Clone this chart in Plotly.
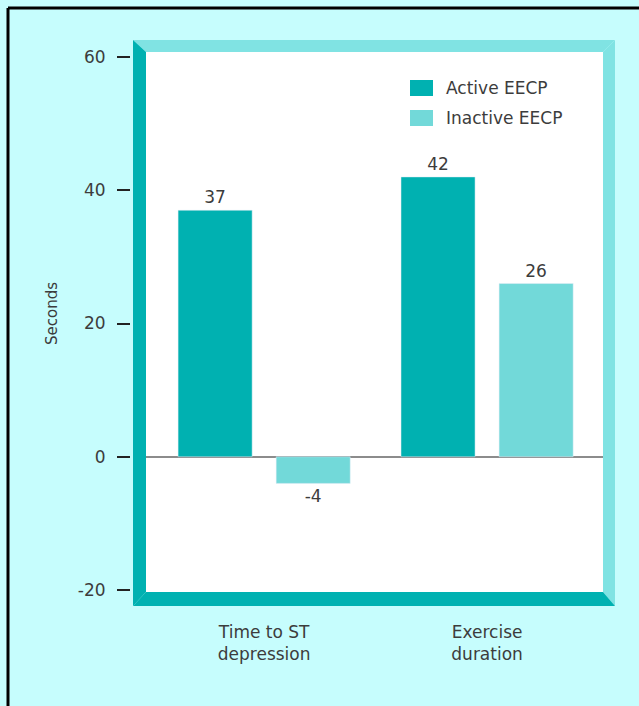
import plotly.graph_objects as go

categories = ["Time to ST<br>depression", "Exercise<br>duration"]
active = [37, 42]
inactive = [-4, 26]
series_names = ["Active EECP", "Inactive EECP"]
y_ticks = [-20, 0, 20, 40, 60]
y_tick_text = ["-20", "0", "20", "40", "60"]

BG = "#c6fdfd"
DARK = "#00b1b1"
LIGHT = "#72d9d9"
FRAME_LIGHT = "#80e3e3"
TXT = "#3c3c3c"
FONT = "DejaVu Sans"
FS = 17

# pixel -> paper conversions (paper area: x 130..615, y 40..606)
L, R, T, B = 130, 615, 40, 606
def px(p):
    return (p - L) / (R - L)
def py(p):
    return (B - p) / (B - T)

fig = go.Figure()
colors = [DARK, LIGHT]
for name, vals, col in zip(series_names, [active, inactive], colors):
    fig.add_trace(go.Bar(x=categories, y=vals, name=name, marker_color=col,
                         text=[str(v) for v in vals], textposition="outside",
                         textfont=dict(size=FS, color=TXT, family=FONT), cliponaxis=False,
                         showlegend=False))

def poly(pts):
    return "M " + " L ".join(f"{px(a):.5f},{py(b):.5f}" for a, b in pts) + " Z"

shapes = [
    dict(type="path", xref="paper", yref="paper", path=poly([(133, 40), (615, 40), (603, 52), (146, 52)]),
         fillcolor=FRAME_LIGHT, line=dict(width=0), layer="above"),
    dict(type="path", xref="paper", yref="paper", path=poly([(615, 40), (615, 606), (603, 592), (603, 52)]),
         fillcolor=FRAME_LIGHT, line=dict(width=0), layer="above"),
    dict(type="path", xref="paper", yref="paper", path=poly([(133, 40), (146, 52), (146, 592), (133, 606)]),
         fillcolor=DARK, line=dict(width=0), layer="above"),
    dict(type="path", xref="paper", yref="paper", path=poly([(133, 606), (146, 592), (603, 592), (615, 606)]),
         fillcolor=DARK, line=dict(width=0), layer="above"),
    dict(type="line", xref="paper", yref="paper", x0=px(8), x1=px(8), y0=py(8), y1=py(720),
         line=dict(color="black", width=3)),
    dict(type="line", xref="paper", yref="paper", x0=px(8), x1=px(660), y0=py(8), y1=py(8),
         line=dict(color="black", width=3)),
]

annotations = [dict(text="Seconds", x=px(52), y=py(314), xref="paper", yref="paper",
                    xanchor="center", yanchor="middle",
                    textangle=-90, showarrow=False, font=dict(size=15, color=TXT, family=FONT))]

# legend (drawn manually to match the large swatches)
leg_rows = [88, 118]
for name, col, yc in zip(series_names, colors, leg_rows):
    shapes.append(dict(type="rect", xref="paper", yref="paper",
                       x0=px(410), x1=px(433), y0=py(yc - 8), y1=py(yc + 8),
                       fillcolor=col, line=dict(width=0), layer="above"))
    annotations.append(dict(text=name, x=px(444), y=py(yc), xref="paper", yref="paper",
                            xanchor="left", yanchor="middle", showarrow=False,
                            font=dict(size=FS, color=TXT, family=FONT)))

fig.update_layout(
    width=639, height=706,
    margin=dict(l=L, r=639 - R, t=T, b=706 - B, pad=0),
    paper_bgcolor=BG, plot_bgcolor="white",
    barmode="group", bargap=0.12, bargroupgap=0.245,
    font=dict(family=FONT, color=TXT, size=FS),
    showlegend=False,
    shapes=shapes,
    annotations=annotations,
    xaxis=dict(domain=[px(146), px(603)], range=[-0.53, 1.52], anchor="free", position=0,
               showgrid=False, zeroline=False, showline=False, ticks="",
               tickfont=dict(size=FS, color=TXT, family=FONT), ticklabelstandoff=14),
    yaxis=dict(domain=[py(592), py(52)], range=[-20.3, 60.75], anchor="free", position=0,
               tickvals=y_ticks, ticktext=y_tick_text, ticks="outside", ticklen=13, tickwidth=2,
               tickcolor="#222", showgrid=False, zeroline=True, zerolinecolor="#8c8c8c",
               zerolinewidth=2, showline=False,
               tickfont=dict(size=FS, color=TXT, family=FONT), ticklabelstandoff=8),
)

fig.write_html("out.html")
